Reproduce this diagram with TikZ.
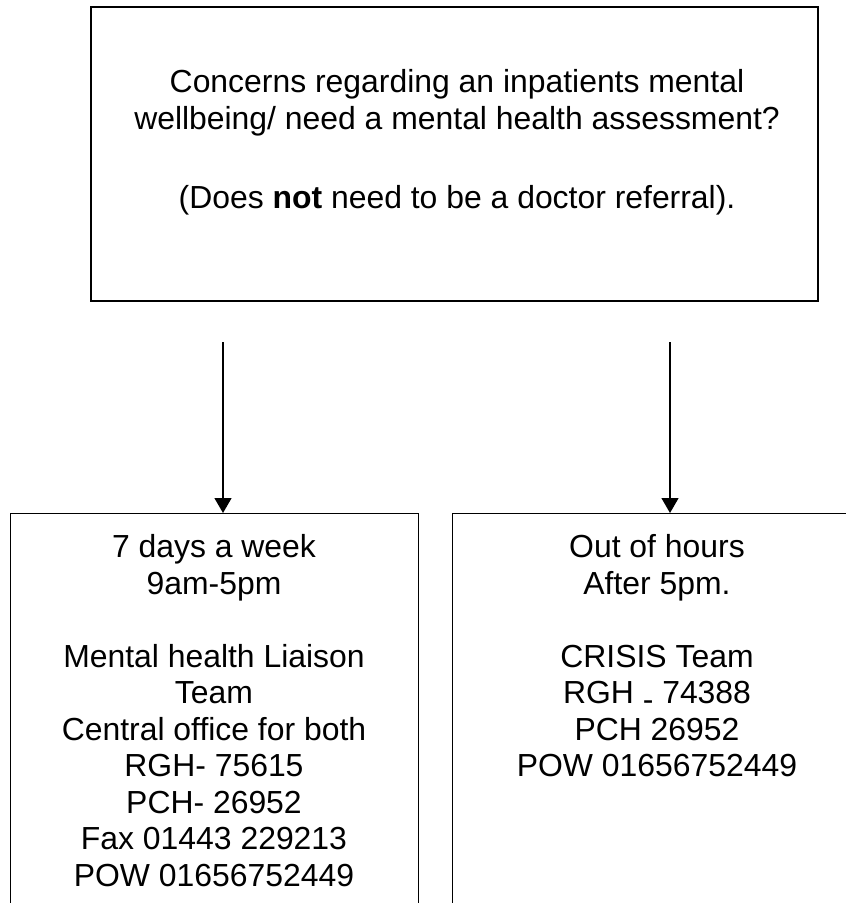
\documentclass[tikz,border=0pt]{standalone}
\usepackage{fontspec}
\setmainfont{Liberation Sans}
\usetikzlibrary{arrows.meta}
\begin{document}
\begin{tikzpicture}[x=0.5pt,y=-0.5pt,
  topbox/.style={draw=black,line width=1pt,inner sep=0pt,anchor=north west,minimum width=363.5pt,minimum height=147pt},
  lowbox/.style={draw=black,line width=0.65pt,inner sep=0pt,anchor=north west,minimum height=220pt},
  txt/.style={font=\fontsize{15.95pt}{18.25pt}\selectfont,align=center,inner sep=0pt,anchor=north},
  arr/.style={draw=black,line width=0.65pt,-{Triangle[length=7.5pt,width=8.5pt]}}]
\useasboundingbox (0,0) rectangle (845,903);
\node[topbox] (top) at (90,6) {};
\node[lowbox,minimum width=204pt] (left) at (10,513) {};
\node[lowbox,minimum width=210pt] (right) at (452,513) {};
\node[txt] (toptext) at (457,69) {Concerns regarding an inpatients mental\\wellbeing/ need a mental health assessment?\\[21.25pt](Does \textbf{not} need to be a doctor referral).};
\node[txt] (lefttext) at (214,534) {7 days a week\\9am-5pm\\[18.25pt]Mental health Liaison\\Team\\Central office for both\\RGH- 75615\\PCH- 26952\\Fax 01443 229213\\POW 01656752449};
\node[txt] (righttext) at (657,534) {Out of hours\\After 5pm.\\[18.25pt]CRISIS Team\\RGH \raisebox{-0.21em}{-} 74388\\PCH 26952\\POW 01656752449};
\coordinate (s1) at (223,342);
\coordinate (s2) at (670,342);
\draw[arr] (s1) -- (s1 |- left.north);
\draw[arr] (s2) -- (s2 |- right.north);
\end{tikzpicture}
\end{document}
